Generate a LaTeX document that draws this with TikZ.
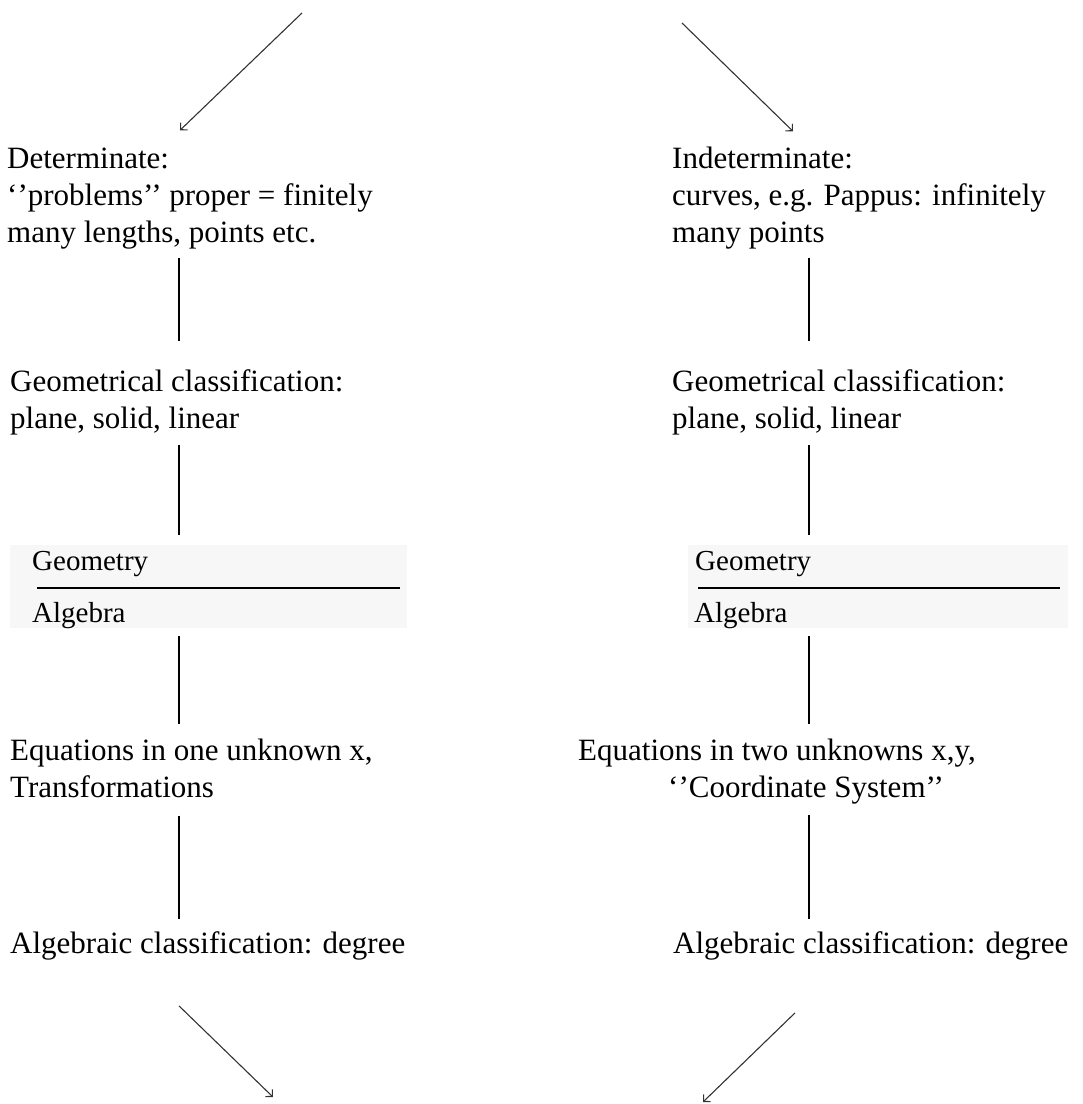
\documentclass[tikz,border=0pt]{standalone}
\usepackage{fontspec}
\setmainfont{Liberation Serif}
\usetikzlibrary{arrows.meta}

\begin{document}
\begin{tikzpicture}[x=1pt, y=-1pt,
    txt/.style={anchor=base west, inner sep=0pt, align=left,
                font=\fontsize{31}{37}\selectfont},
    small/.style={anchor=base west, inner sep=0pt, font=\fontsize{29}{34}\selectfont},
    panel/.style={fill=black!3, inner sep=0pt, anchor=north west},
    link/.style={line width=1.3pt},
    gap/.style 2 args={shorten <=#1pt, shorten >=#2pt},
    tip/.style={line width=1.1pt, black!80, -{Straight Barb[angle=90:7pt]}}]
    \useasboundingbox (0,0) rectangle (1083,1104);
    \coordinate (lx) at (179,0);
    \coordinate (rx) at (809,0);
    % the two branches (placed at the baseline of their last line)
    \node[txt] (det) at (7,242) {Determinate:\\‘’problems’’ proper = finitely\\many lengths, points etc.};
    \node[txt] (indet) at (672,242) {Indeterminate:\\curves, e.g. Pappus: infinitely\\many points};
    \node[txt] (geoL) at (10,428) {Geometrical classification:\\plane, solid, linear};
    \node[txt] (geoR) at (672,428) {Geometrical classification:\\plane, solid, linear};
    % geometry over algebra
    \node[panel, minimum width=397pt, minimum height=83pt] (boxL) at (10,545) {};
    \node[panel, minimum width=380pt, minimum height=83pt] (boxR) at (688,545) {};
    \node[small] (gL) at (32,570) {Geometry};
    \node[small] (aL) at (32,622) {Algebra};
    \node[small] (gR) at (695,570) {Geometry};
    \node[small] (aR) at (694,622) {Algebra};
    \draw[line width=1.2pt] (37,588) -- (400,588) (698,588) -- (1060,588);
    \node[txt] (eqL) at (10,797) {Equations in one unknown x,\\Transformations};
    \node[txt] (eqR) at (578,797) {Equations in two unknowns x,y,\\\hspace*{90pt}‘’Coordinate System’’};
    \node[txt] (algL) at (10,953) {Algebraic classification: degree};
    \node[txt] (algR) at (673,953) {Algebraic classification: degree};
    % connectors
    \draw[link, gap={9}{28}] (det.south -| lx) -- (geoL.north -| lx);
    \draw[link, gap={10}{10}] (geoL.south -| lx) -- (boxL.north -| lx);
    \draw[link, gap={8}{14}] (boxL.south -| lx) -- (eqL.north -| lx);
    \draw[link, gap={18}{12}] (eqL.south -| lx) -- (algL.north -| lx);
    \draw[link, gap={9}{28}] (indet.south -| rx) -- (geoR.north -| rx);
    \draw[link, gap={10}{10}] (geoR.south -| rx) -- (boxR.north -| rx);
    \draw[link, gap={8}{14}] (boxR.south -| rx) -- (eqR.north -| rx);
    \draw[link, gap={11}{12}] (eqR.south -| rx) -- (algR.north -| rx);
    % arrows in and out
    \coordinate (inL) at (302,13);
    \coordinate (inR) at (682,23);
    \coordinate (outL) at (273,1097);
    \coordinate (outR) at (703,1102);
    \draw[tip] (inL) -- ([xshift=173pt, yshift=17pt]det.north west);
    \draw[tip] (inR) -- ([xshift=121pt, yshift=15pt]indet.north west);
    \draw[tip] ([xshift=169pt, yshift=-46pt]algL.south west) -- (outL);
    \draw[tip] ([xshift=122pt, yshift=-53pt]algR.south west) -- (outR);
\end{tikzpicture}
\end{document}
